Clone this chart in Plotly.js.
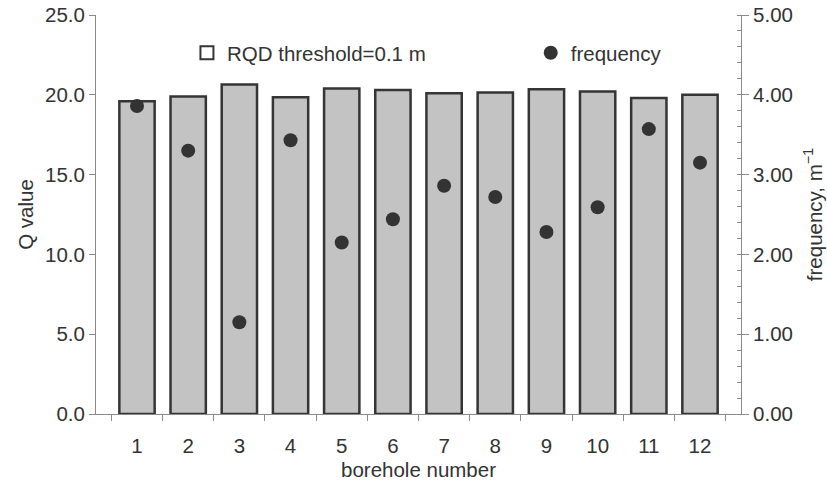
<!DOCTYPE html>
<html>
<head>
<meta charset="utf-8">
<script src="https://cdn.plot.ly/plotly-3.0.1.min.js"></script>
<style>html,body{margin:0;padding:0;background:#fff;}#chart{width:827px;height:488px;}</style>
</head>
<body>
<div id="chart"></div>
<script>
const boreholes = ['1','2','3','4','5','6','7','8','9','10','11','12'];
const qValues = [19.6, 19.9, 20.65, 19.85, 20.4, 20.3, 20.1, 20.15, 20.35, 20.2, 19.8, 20.0];
const frequency = [3.86, 3.30, 1.15, 3.43, 2.15, 2.44, 2.86, 2.72, 2.28, 2.59, 3.57, 3.15];
const barName = 'RQD threshold=0.1 m';
const freqName = 'frequency';

const textColor = '#333333';
const axisColor = '#8a8a8a';
const fontFam = 'Liberation Sans, Arial, Helvetica, sans-serif';
const fs = 20.5;

const traces = [
  {
    type: 'bar', x: boreholes, y: qValues, name: barName, showlegend: false,
    marker: {color: '#c3c3c3', line: {color: '#353535', width: 2.5}},
    yaxis: 'y', hoverinfo: 'x+y'
  },
  {
    type: 'scatter', mode: 'markers', x: [null], y: [null], name: barName,
    marker: {symbol: 'square', size: 13, color: '#ffffff', line: {color: '#353535', width: 2}},
    yaxis: 'y', hoverinfo: 'skip', legend: 'legend'
  },
  {
    type: 'scatter', mode: 'markers', x: boreholes, y: frequency, name: freqName,
    marker: {color: '#333333', size: 14},
    yaxis: 'y2', legend: 'legend2'
  }
];

const legendCommon = {
  orientation: 'h', xanchor: 'left', y: 0.905, yanchor: 'middle',
  bgcolor: 'rgba(0,0,0,0)', font: {family: fontFam, size: fs, color: textColor},
  itemwidth: 30
};

const layout = {
  width: 827, height: 488,
  margin: {l: 96, r: 86, t: 15, b: 74},
  paper_bgcolor: '#ffffff', plot_bgcolor: '#ffffff',
  font: {family: fontFam, size: fs, color: textColor},
  bargap: 0.31,
  showlegend: true,
  legend: Object.assign({}, legendCommon, {x: 0.141}),
  legend2: Object.assign({}, legendCommon, {x: 0.674}),
  xaxis: {
    type: 'category', showgrid: false, zeroline: false,
    showline: true, linecolor: axisColor, linewidth: 1,
    ticks: 'outside', tickson: 'boundaries', ticklen: 6, tickcolor: axisColor,
    ticklabelstandoff: 13,
    tickfont: {size: fs, color: textColor},
    title: {text: 'borehole number', font: {size: fs, color: textColor}, standoff: 7},
    fixedrange: true
  },
  yaxis: {
    range: [0, 25], dtick: 5, tickformat: '.1f',
    showgrid: false, zeroline: false,
    showline: true, linecolor: axisColor, linewidth: 1,
    ticks: 'outside', ticklen: 6, tickcolor: axisColor,
    tickfont: {size: fs, color: textColor},
    title: {text: 'Q value', font: {size: fs, color: textColor}, standoff: 5}
  },
  yaxis2: {
    overlaying: 'y', side: 'right', range: [0, 5], dtick: 1, tickformat: '.2f',
    showgrid: false, zeroline: false,
    showline: true, linecolor: axisColor, linewidth: 1,
    ticks: 'outside', ticklen: 7, tickcolor: axisColor,
    minor: {dtick: 0.2, ticks: 'inside', ticklen: 4, tickcolor: axisColor},
    tickfont: {size: fs, color: textColor},
    title: {text: 'frequency, m<sup>−1</sup>', font: {size: fs, color: textColor}, standoff: 15}
  }
};

Plotly.newPlot('chart', traces, layout, {displayModeBar: false, staticPlot: true});
</script>
</body>
</html>
